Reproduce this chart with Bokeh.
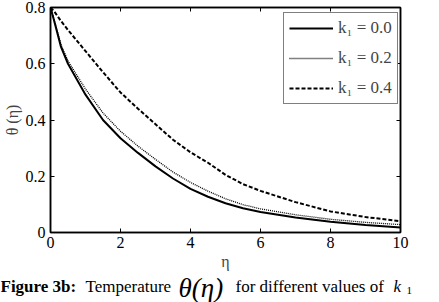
from bokeh.plotting import figure
from bokeh.layouts import column
from bokeh.models import Range1d, FixedTicker, LinearAxis, Legend, LegendItem, CustomJSTickFormatter, Label
from bokeh.embed import file_html
from bokeh.resources import INLINE

# Similarity variable and temperature profiles theta(eta) for three k1 values
eta = [0, 0.1, 0.3, 0.5, 1.0, 1.5, 2.0, 2.5, 3.0, 3.5, 4.0, 4.5, 5.0, 5.5, 6.0, 7.0, 8.0, 9.0, 10.0]
theta_k00 = [0.8, 0.755, 0.66, 0.60, 0.49, 0.40, 0.335, 0.283, 0.235, 0.192, 0.155, 0.127, 0.104, 0.086, 0.073, 0.053, 0.038, 0.027, 0.018]
theta_k02 = [0.8, 0.758, 0.668, 0.61, 0.51, 0.425, 0.36, 0.307, 0.26, 0.215, 0.178, 0.147, 0.12, 0.099, 0.084, 0.063, 0.047, 0.036, 0.028]
theta_k04 = [0.8, 0.787, 0.752, 0.72, 0.645, 0.57, 0.498, 0.44, 0.385, 0.33, 0.285, 0.248, 0.205, 0.172, 0.148, 0.108, 0.075, 0.055, 0.04]

x_ticks = [0, 2, 4, 6, 8, 10]
y_ticks = [0, 0.2, 0.4, 0.6, 0.8]
legend_labels = ["k\u2081 = 0.0", "k\u2081 = 0.2", "k\u2081 = 0.4"]

FONT = "'Liberation Serif'"
AXIS_FONT = "Times"

p = figure(width=439, height=274, output_backend="svg", toolbar_location=None,
           x_range=Range1d(0, 10), y_range=Range1d(0, 0.8),
           min_border_left=48, min_border_right=39, min_border_top=7, min_border_bottom=42)
p.frame_align = False
p.xgrid.visible = False
p.ygrid.visible = False
p.outline_line_color = "black"
p.outline_line_width = 1.5

r0 = p.line(eta, theta_k00, line_color="black", line_width=2)
r1 = p.line(eta, theta_k02, line_color="black", line_width=1.3, line_dash="1 1")
r2 = p.line(eta, theta_k04, line_color="black", line_width=2, line_dash="4 2")

def style_axis(ax, ticks):
    ax.ticker = FixedTicker(ticks=ticks)
    ax.major_tick_in = 4
    ax.major_tick_out = 0
    ax.minor_tick_in = 0
    ax.minor_tick_out = 0
    ax.axis_line_width = 1.5
    ax.major_tick_line_width = 1
    ax.major_label_text_font = AXIS_FONT
    ax.major_label_text_font_size = "16px"
    ax.major_label_text_color = "black"
    ax.axis_label_text_font = AXIS_FONT
    ax.axis_label_text_font_style = "normal"
    ax.axis_label_text_font_size = "16px"

xa = p.xaxis[0]
style_axis(xa, x_ticks)
xa.axis_label = "\u03b7"
xa.major_label_standoff = 4
xa.axis_label_standoff = 2

ya = p.yaxis[0]
style_axis(ya, y_ticks)
ya.axis_label = "\u03b8 (\u03b7)"
ya.major_label_standoff = 5
ya.axis_label_standoff = 2
ya.major_label_overrides = {0: "0"}

blank = CustomJSTickFormatter(code="return ''")
top = LinearAxis(formatter=blank)
style_axis(top, x_ticks)
top.major_label_standoff = 0
p.add_layout(top, "above")
right = LinearAxis(formatter=blank)
style_axis(right, y_ticks)
right.major_label_standoff = 0
p.add_layout(right, "right")

legend = Legend(items=[LegendItem(label=legend_labels[0], renderers=[r0]),
                       LegendItem(label=legend_labels[1], renderers=[r1]),
                       LegendItem(label=legend_labels[2], renderers=[r2])],
                location=(233, 128))
legend.label_text_font = FONT
legend.label_text_font_size = "17px"
legend.padding = 5
legend.spacing = 10
legend.label_height = 20
legend.glyph_height = 20
legend.glyph_width = 44
legend.label_standoff = 5
legend.label_width = 52
legend.border_line_color = "black"
legend.border_line_width = 1
legend.background_fill_alpha = 1
legend.margin = 0
p.add_layout(legend, "center")

# Caption strip: a bare canvas whose frame spans the whole strip, one label per text style
cap_fig = figure(width=439, height=28, output_backend="svg", toolbar_location=None,
                 x_range=Range1d(0, 439), y_range=Range1d(0, 28),
                 min_border=0, x_axis_type=None, y_axis_type=None)
cap_fig.frame_align = False
cap_fig.xgrid.visible = False
cap_fig.ygrid.visible = False
cap_fig.outline_line_color = None
cap = dict(text_font=FONT, text_color="black", text_baseline="alphabetic")
cap_fig.add_layout(Label(x=0, y=16, text="Figure 3b:", text_font_style="bold",
                         text_font_size="17px", **cap))
cap_fig.add_layout(Label(x=85, y=16, text="Temperature", text_font_size="17px", **cap))
cap_fig.add_layout(Label(x=178, y=15, text="\u03b8(\u03b7)", text_font_style="italic",
                         text_font_size="27px", **cap))
cap_fig.add_layout(Label(x=235, y=16, text="for different values of", text_font_size="17px", **cap))
cap_fig.add_layout(Label(x=393, y=16, text="k", text_font_style="italic", text_font_size="17px", **cap))
cap_fig.add_layout(Label(x=406, y=12, text="1", text_font_size="11px", **cap))

layout = column(p, cap_fig, spacing=0)
open("out.html", "w").write(file_html(layout, INLINE))
